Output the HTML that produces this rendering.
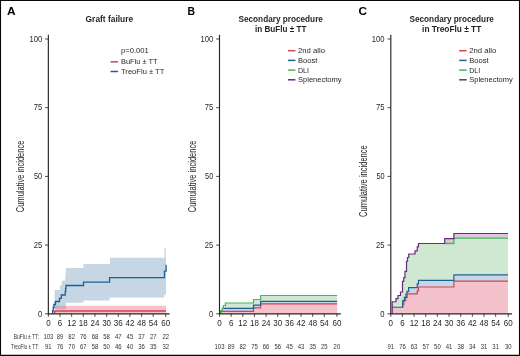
<!DOCTYPE html>
<html><head><meta charset="utf-8"><title>Figure</title>
<style>
html,body{margin:0;padding:0;background:#fff;}
body{width:520px;height:356px;overflow:hidden;}
svg{display:block;font-family:"Liberation Sans",sans-serif;}
</style></head><body>
<svg width="520" height="356" viewBox="0 0 520 356">
<rect x="0" y="0" width="520" height="356" fill="#fff"/>
<path d="M52.60,313.80 L52.60,313.80 L52.60,309.00 L53.20,309.00 L53.20,304.50 L54.00,304.50 L54.00,301.00 L54.60,301.00 L54.60,290.00 L59.90,290.00 L59.90,285.60 L61.65,285.60 L61.65,280.80 L65.20,280.80 L65.20,276.50 L65.60,276.50 L65.60,272.30 L66.00,272.30 L66.00,268.10 L83.40,268.10 L83.40,264.00 L110.00,264.00 L110.00,257.70 L166.00,257.70 L166.00,294.50 L164.20,294.50 L164.20,297.50 L109.50,297.50 L109.50,300.60 L83.40,300.60 L83.40,302.80 L66.00,302.80 L66.00,309.10 L52.40,309.10 L52.40,313.80Z" fill="#c6d6e4"/>
<rect x="164.3" y="248.2" width="1.6" height="10" fill="#c6d6e4" opacity="0.85"/>
<path d="M55,313.8 V305.8 H166.0 V313.8Z" fill="#f4c2ca"/>
<path d="M55,309.1 V305.8 H66 V309.1Z" fill="#c8aebf"/>
<path d="M54.6,313.8 V310.9 H166.0" stroke="#d93f54" stroke-width="1.5" fill="none"/>
<path d="M52.60,313.80 L52.60,313.80 L52.60,311.00 L53.20,311.00 L53.20,307.50 L53.90,307.50 L53.90,304.50 L55.50,304.50 L55.50,301.50 L59.50,301.50 L59.50,298.40 L61.30,298.40 L61.30,295.00 L65.20,295.00 L65.20,291.70 L65.60,291.70 L65.60,288.60 L66.00,288.60 L66.00,285.50 L83.50,285.50 L83.50,282.20 L109.60,282.20 L109.60,277.70 L164.50,277.70 L164.50,271.20 L166.10,271.20 L166.10,264.80 L166.10,264.80" stroke="#1e5f99" stroke-width="1.3" fill="none" stroke-linejoin="miter"/>
<g stroke="#2a2627" stroke-width="1.15" fill="none">
<path d="M48.35,34.8 V313.80 H169.65"/>
<path d="M45.05,313.80 H48.35" stroke-width="0.85"/>
<path d="M45.05,245.10 H48.35" stroke-width="0.85"/>
<path d="M45.05,176.40 H48.35" stroke-width="0.85"/>
<path d="M45.05,107.70 H48.35" stroke-width="0.85"/>
<path d="M45.05,39.00 H48.35" stroke-width="0.85"/>
<path d="M48.35,313.80 V316.80" stroke-width="0.85"/>
<path d="M60.00,313.80 V316.80" stroke-width="0.85"/>
<path d="M71.65,313.80 V316.80" stroke-width="0.85"/>
<path d="M83.30,313.80 V316.80" stroke-width="0.85"/>
<path d="M94.95,313.80 V316.80" stroke-width="0.85"/>
<path d="M106.60,313.80 V316.80" stroke-width="0.85"/>
<path d="M118.25,313.80 V316.80" stroke-width="0.85"/>
<path d="M129.90,313.80 V316.80" stroke-width="0.85"/>
<path d="M141.55,313.80 V316.80" stroke-width="0.85"/>
<path d="M153.20,313.80 V316.80" stroke-width="0.85"/>
<path d="M165.75,313.80 V316.80" stroke-width="0.85"/>
</g>
<g font-size="9" fill="#231f20" lengthAdjust="spacingAndGlyphs">
<text x="42.15" y="317" text-anchor="end" textLength="4.25" lengthAdjust="spacingAndGlyphs">0</text>
<text x="42.15" y="248" text-anchor="end" textLength="8.50" lengthAdjust="spacingAndGlyphs">25</text>
<text x="42.15" y="179" text-anchor="end" textLength="8.20" lengthAdjust="spacingAndGlyphs">50</text>
<text x="42.15" y="110" text-anchor="end" textLength="8.50" lengthAdjust="spacingAndGlyphs">75</text>
<text x="42.15" y="42" text-anchor="end" textLength="12.75" lengthAdjust="spacingAndGlyphs">100</text>
<text x="48.35" y="326.2" text-anchor="middle" textLength="4.45" lengthAdjust="spacingAndGlyphs">0</text>
<text x="60.00" y="326.2" text-anchor="middle" textLength="4.45" lengthAdjust="spacingAndGlyphs">6</text>
<text x="71.65" y="326.2" text-anchor="middle" textLength="8.90" lengthAdjust="spacingAndGlyphs">12</text>
<text x="83.30" y="326.2" text-anchor="middle" textLength="8.90" lengthAdjust="spacingAndGlyphs">18</text>
<text x="94.95" y="326.2" text-anchor="middle" textLength="8.90" lengthAdjust="spacingAndGlyphs">24</text>
<text x="106.60" y="326.2" text-anchor="middle" textLength="8.90" lengthAdjust="spacingAndGlyphs">30</text>
<text x="118.25" y="326.2" text-anchor="middle" textLength="8.90" lengthAdjust="spacingAndGlyphs">36</text>
<text x="129.90" y="326.2" text-anchor="middle" textLength="8.90" lengthAdjust="spacingAndGlyphs">42</text>
<text x="141.55" y="326.2" text-anchor="middle" textLength="8.90" lengthAdjust="spacingAndGlyphs">48</text>
<text x="153.20" y="326.2" text-anchor="middle" textLength="8.90" lengthAdjust="spacingAndGlyphs">54</text>
<text x="165.75" y="326.2" text-anchor="middle" textLength="8.90" lengthAdjust="spacingAndGlyphs">60</text>
</g>
<text transform="translate(24.35,176.40) rotate(-90)" font-size="10.1" text-anchor="middle" textLength="71.8" lengthAdjust="spacingAndGlyphs" fill="#231f20">Cumulative incidence</text>
<text x="6.9" y="15" font-size="10.4" font-weight="bold" textLength="8.6" lengthAdjust="spacingAndGlyphs" fill="#000">A</text>
<text x="109.4" y="21.7" font-size="8.6" font-weight="bold" text-anchor="middle" textLength="47.6" lengthAdjust="spacingAndGlyphs" fill="#231f20">Graft failure</text>
<text x="121.0" y="53.0" font-size="8.0" textLength="27.8" lengthAdjust="spacingAndGlyphs" fill="#231f20">p=0.001</text>
<path d="M110.60,61.80 h7.4" stroke="#d93f54" stroke-width="1.5" fill="none"/>
<text x="121.00" y="64.00" font-size="8.0" textLength="36.6" lengthAdjust="spacingAndGlyphs" fill="#231f20">BuFlu ± TT</text>
<path d="M110.60,71.50 h7.4" stroke="#1e5f99" stroke-width="1.5" fill="none"/>
<text x="121.00" y="73.70" font-size="8.0" textLength="43.4" lengthAdjust="spacingAndGlyphs" fill="#231f20">TreoFlu ± TT</text>
<g font-size="7.2" fill="#333031">
<text x="38.85" y="339.00" text-anchor="end" textLength="25" lengthAdjust="spacingAndGlyphs">BuFlu ± TT:</text>
<text x="48.35" y="339.00" text-anchor="middle" textLength="9.9" lengthAdjust="spacingAndGlyphs">103</text>
<text x="60.00" y="339.00" text-anchor="middle" textLength="6.6" lengthAdjust="spacingAndGlyphs">89</text>
<text x="71.65" y="339.00" text-anchor="middle" textLength="6.6" lengthAdjust="spacingAndGlyphs">82</text>
<text x="83.30" y="339.00" text-anchor="middle" textLength="6.6" lengthAdjust="spacingAndGlyphs">76</text>
<text x="94.95" y="339.00" text-anchor="middle" textLength="6.6" lengthAdjust="spacingAndGlyphs">68</text>
<text x="106.60" y="339.00" text-anchor="middle" textLength="6.6" lengthAdjust="spacingAndGlyphs">58</text>
<text x="118.25" y="339.00" text-anchor="middle" textLength="6.6" lengthAdjust="spacingAndGlyphs">47</text>
<text x="129.90" y="339.00" text-anchor="middle" textLength="6.6" lengthAdjust="spacingAndGlyphs">45</text>
<text x="141.55" y="339.00" text-anchor="middle" textLength="6.6" lengthAdjust="spacingAndGlyphs">37</text>
<text x="153.20" y="339.00" text-anchor="middle" textLength="6.6" lengthAdjust="spacingAndGlyphs">27</text>
<text x="165.75" y="339.00" text-anchor="middle" textLength="6.6" lengthAdjust="spacingAndGlyphs">22</text>
<text x="38.85" y="349.00" text-anchor="end" textLength="27.8" lengthAdjust="spacingAndGlyphs">TreoFlu ± TT:</text>
<text x="48.35" y="349.00" text-anchor="middle" textLength="6.6" lengthAdjust="spacingAndGlyphs">91</text>
<text x="60.00" y="349.00" text-anchor="middle" textLength="6.6" lengthAdjust="spacingAndGlyphs">76</text>
<text x="71.65" y="349.00" text-anchor="middle" textLength="6.6" lengthAdjust="spacingAndGlyphs">70</text>
<text x="83.30" y="349.00" text-anchor="middle" textLength="6.6" lengthAdjust="spacingAndGlyphs">67</text>
<text x="94.95" y="349.00" text-anchor="middle" textLength="6.6" lengthAdjust="spacingAndGlyphs">58</text>
<text x="106.60" y="349.00" text-anchor="middle" textLength="6.6" lengthAdjust="spacingAndGlyphs">50</text>
<text x="118.25" y="349.00" text-anchor="middle" textLength="6.6" lengthAdjust="spacingAndGlyphs">46</text>
<text x="129.90" y="349.00" text-anchor="middle" textLength="6.6" lengthAdjust="spacingAndGlyphs">40</text>
<text x="141.55" y="349.00" text-anchor="middle" textLength="6.6" lengthAdjust="spacingAndGlyphs">36</text>
<text x="153.20" y="349.00" text-anchor="middle" textLength="6.6" lengthAdjust="spacingAndGlyphs">35</text>
<text x="165.75" y="349.00" text-anchor="middle" textLength="6.6" lengthAdjust="spacingAndGlyphs">32</text>
</g>
<path d="M220.60,313.80 L220.60,313.80 L220.60,311.45 L253.50,311.45 L253.50,307.80 L260.60,307.80 L260.60,303.90 L337.10,303.90 L337.10,313.80 L220.40,313.80Z" fill="#f4c2ca"/>
<path d="M220.60,313.80 L220.60,313.80 L220.60,311.00 L222.40,311.00 L222.40,308.30 L253.50,308.30 L253.50,305.10 L260.60,305.10 L260.60,301.30 L337.10,301.30 L337.10,303.90 L260.60,303.90 L260.60,307.80 L253.50,307.80 L253.50,311.45 L220.60,311.45 L220.60,313.80 L220.60,313.80Z" fill="#c6d6e4"/>
<path d="M220.60,313.80 L220.60,313.80 L220.60,311.00 L222.40,311.00 L222.40,308.40 L223.40,308.40 L223.40,305.50 L225.40,305.50 L225.40,303.00 L253.50,303.00 L253.50,299.50 L260.60,299.50 L260.60,295.50 L337.10,295.50 L337.10,301.30 L260.60,301.30 L260.60,305.10 L253.50,305.10 L253.50,308.30 L222.40,308.30 L222.40,311.00 L220.60,311.00 L220.60,313.80 L220.60,313.80Z" fill="#cfe8d1"/>
<path d="M220.60,313.80 L220.60,313.80 L220.60,311.45 L253.50,311.45 L253.50,307.80 L260.60,307.80 L260.60,303.90 L337.10,303.90" stroke="#d93f54" stroke-width="1.2" fill="none"/>
<path d="M220.60,313.80 L220.60,313.80 L220.60,311.00 L222.40,311.00 L222.40,308.30 L253.50,308.30 L253.50,305.10 L260.60,305.10 L260.60,301.30 L337.10,301.30" stroke="#1e5f99" stroke-width="1.2" fill="none"/>
<path d="M220.60,313.80 L220.60,313.80 L220.60,311.00 L222.40,311.00 L222.40,308.40 L223.40,308.40 L223.40,305.50 L225.40,305.50 L225.40,303.00 L253.50,303.00 L253.50,299.50 L260.60,299.50 L260.60,295.50 L337.10,295.50" stroke="#45b852" stroke-width="1.2" fill="none"/>
<g stroke="#2a2627" stroke-width="1.15" fill="none">
<path d="M219.50,34.8 V313.80 H340.80"/>
<path d="M216.20,313.80 H219.50" stroke-width="0.85"/>
<path d="M216.20,245.10 H219.50" stroke-width="0.85"/>
<path d="M216.20,176.40 H219.50" stroke-width="0.85"/>
<path d="M216.20,107.70 H219.50" stroke-width="0.85"/>
<path d="M216.20,39.00 H219.50" stroke-width="0.85"/>
<path d="M219.50,313.80 V316.80" stroke-width="0.85"/>
<path d="M231.15,313.80 V316.80" stroke-width="0.85"/>
<path d="M242.80,313.80 V316.80" stroke-width="0.85"/>
<path d="M254.45,313.80 V316.80" stroke-width="0.85"/>
<path d="M266.10,313.80 V316.80" stroke-width="0.85"/>
<path d="M277.75,313.80 V316.80" stroke-width="0.85"/>
<path d="M289.40,313.80 V316.80" stroke-width="0.85"/>
<path d="M301.05,313.80 V316.80" stroke-width="0.85"/>
<path d="M312.70,313.80 V316.80" stroke-width="0.85"/>
<path d="M324.35,313.80 V316.80" stroke-width="0.85"/>
<path d="M336.90,313.80 V316.80" stroke-width="0.85"/>
</g>
<g font-size="9" fill="#231f20" lengthAdjust="spacingAndGlyphs">
<text x="213.30" y="317" text-anchor="end" textLength="4.25" lengthAdjust="spacingAndGlyphs">0</text>
<text x="213.30" y="248" text-anchor="end" textLength="8.50" lengthAdjust="spacingAndGlyphs">25</text>
<text x="213.30" y="179" text-anchor="end" textLength="8.20" lengthAdjust="spacingAndGlyphs">50</text>
<text x="213.30" y="110" text-anchor="end" textLength="8.50" lengthAdjust="spacingAndGlyphs">75</text>
<text x="213.30" y="42" text-anchor="end" textLength="12.75" lengthAdjust="spacingAndGlyphs">100</text>
<text x="219.50" y="326.2" text-anchor="middle" textLength="4.45" lengthAdjust="spacingAndGlyphs">0</text>
<text x="231.15" y="326.2" text-anchor="middle" textLength="4.45" lengthAdjust="spacingAndGlyphs">6</text>
<text x="242.80" y="326.2" text-anchor="middle" textLength="8.90" lengthAdjust="spacingAndGlyphs">12</text>
<text x="254.45" y="326.2" text-anchor="middle" textLength="8.90" lengthAdjust="spacingAndGlyphs">18</text>
<text x="266.10" y="326.2" text-anchor="middle" textLength="8.90" lengthAdjust="spacingAndGlyphs">24</text>
<text x="277.75" y="326.2" text-anchor="middle" textLength="8.90" lengthAdjust="spacingAndGlyphs">30</text>
<text x="289.40" y="326.2" text-anchor="middle" textLength="8.90" lengthAdjust="spacingAndGlyphs">36</text>
<text x="301.05" y="326.2" text-anchor="middle" textLength="8.90" lengthAdjust="spacingAndGlyphs">42</text>
<text x="312.70" y="326.2" text-anchor="middle" textLength="8.90" lengthAdjust="spacingAndGlyphs">48</text>
<text x="324.35" y="326.2" text-anchor="middle" textLength="8.90" lengthAdjust="spacingAndGlyphs">54</text>
<text x="336.90" y="326.2" text-anchor="middle" textLength="8.90" lengthAdjust="spacingAndGlyphs">60</text>
</g>
<text transform="translate(195.50,176.40) rotate(-90)" font-size="10.1" text-anchor="middle" textLength="71.8" lengthAdjust="spacingAndGlyphs" fill="#231f20">Cumulative incidence</text>
<text x="187.4" y="15" font-size="10.4" font-weight="bold" fill="#000">B</text>
<text x="280.7" y="21.6" font-size="8.6" font-weight="bold" text-anchor="middle" textLength="84.4" lengthAdjust="spacingAndGlyphs" fill="#231f20">Secondary procedure</text>
<text x="280.7" y="31.6" font-size="8.6" font-weight="bold" text-anchor="middle" textLength="51.4" lengthAdjust="spacingAndGlyphs" fill="#231f20">in BuFlu ± TT</text>
<path d="M288.00,50.70 h7.4" stroke="#d93f54" stroke-width="1.5" fill="none"/>
<text x="298.00" y="53.35" font-size="8.0" textLength="27" lengthAdjust="spacingAndGlyphs" fill="#231f20">2nd allo</text>
<path d="M288.00,60.40 h7.4" stroke="#1e5f99" stroke-width="1.5" fill="none"/>
<text x="298.00" y="63.05" font-size="8.0" textLength="19.5" lengthAdjust="spacingAndGlyphs" fill="#231f20">Boost</text>
<path d="M288.00,70.10 h7.4" stroke="#45b852" stroke-width="1.5" fill="none"/>
<text x="298.00" y="72.75" font-size="8.0" textLength="11" lengthAdjust="spacingAndGlyphs" fill="#231f20">DLI</text>
<path d="M288.00,79.80 h7.4" stroke="#6a2a7c" stroke-width="1.5" fill="none"/>
<text x="298.00" y="82.45" font-size="8.0" textLength="43.6" lengthAdjust="spacingAndGlyphs" fill="#231f20">Splenectomy</text>
<g font-size="7.2" fill="#333031">
<text x="219.50" y="349.00" text-anchor="middle" textLength="9.9" lengthAdjust="spacingAndGlyphs">103</text>
<text x="231.15" y="349.00" text-anchor="middle" textLength="6.6" lengthAdjust="spacingAndGlyphs">89</text>
<text x="242.80" y="349.00" text-anchor="middle" textLength="6.6" lengthAdjust="spacingAndGlyphs">82</text>
<text x="254.45" y="349.00" text-anchor="middle" textLength="6.6" lengthAdjust="spacingAndGlyphs">75</text>
<text x="266.10" y="349.00" text-anchor="middle" textLength="6.6" lengthAdjust="spacingAndGlyphs">66</text>
<text x="277.75" y="349.00" text-anchor="middle" textLength="6.6" lengthAdjust="spacingAndGlyphs">56</text>
<text x="289.40" y="349.00" text-anchor="middle" textLength="6.6" lengthAdjust="spacingAndGlyphs">45</text>
<text x="301.05" y="349.00" text-anchor="middle" textLength="6.6" lengthAdjust="spacingAndGlyphs">43</text>
<text x="312.70" y="349.00" text-anchor="middle" textLength="6.6" lengthAdjust="spacingAndGlyphs">35</text>
<text x="324.35" y="349.00" text-anchor="middle" textLength="6.6" lengthAdjust="spacingAndGlyphs">25</text>
<text x="336.90" y="349.00" text-anchor="middle" textLength="6.6" lengthAdjust="spacingAndGlyphs">20</text>
</g>
<path d="M392.20,313.80 L392.20,313.80 L392.20,307.25 L402.70,307.25 L402.70,304.10 L403.90,304.10 L403.90,300.60 L405.80,300.60 L405.80,293.90 L417.25,293.90 L417.25,290.90 L418.50,290.90 L418.50,287.00 L453.90,287.00 L453.90,281.20 L508.00,281.20 L508.00,313.80 L392.20,313.80Z" fill="#f4c2ca"/>
<path d="M392.20,313.80 L392.20,313.80 L392.20,307.25 L402.70,307.25 L402.70,300.60 L404.40,300.60 L404.40,297.40 L407.00,297.40 L407.00,291.40 L408.60,291.40 L408.60,287.60 L417.25,287.60 L417.25,283.90 L418.50,283.90 L418.50,280.30 L453.90,280.30 L453.90,274.80 L508.00,274.80 L508.00,281.20 L453.90,281.20 L453.90,287.00 L418.50,287.00 L418.50,290.90 L417.25,290.90 L417.25,293.90 L405.80,293.90 L405.80,300.60 L403.90,300.60 L403.90,304.10 L402.70,304.10 L402.70,307.25 L392.20,307.25 L392.20,313.80 L392.20,313.80Z" fill="#c6d6e4"/>
<path d="M392.20,313.80 L392.20,313.80 L392.20,301.75 L396.00,301.75 L396.00,298.60 L398.00,298.60 L398.00,295.50 L400.50,295.50 L400.50,292.00 L402.50,292.00 L402.50,281.40 L403.75,281.40 L403.75,277.60 L405.00,277.60 L405.00,271.40 L406.50,271.40 L406.50,261.25 L407.50,261.25 L407.50,257.50 L408.75,257.50 L408.75,254.00 L415.00,254.00 L415.00,250.90 L417.25,250.90 L417.25,246.90 L418.50,246.90 L418.50,243.50 L453.90,243.50 L453.90,238.20 L508.00,238.20 L508.00,274.80 L453.90,274.80 L453.90,280.30 L418.50,280.30 L418.50,283.90 L417.25,283.90 L417.25,287.60 L408.60,287.60 L408.60,291.40 L407.00,291.40 L407.00,297.40 L404.40,297.40 L404.40,300.60 L402.70,300.60 L402.70,307.25 L392.20,307.25 L392.20,313.80 L392.20,313.80Z" fill="#cfe8d1"/>
<path d="M392.20,313.80 L392.20,313.80 L392.20,301.75 L396.00,301.75 L396.00,298.60 L398.00,298.60 L398.00,295.50 L400.50,295.50 L400.50,292.00 L402.50,292.00 L402.50,281.40 L403.75,281.40 L403.75,277.60 L405.00,277.60 L405.00,271.40 L406.50,271.40 L406.50,261.25 L407.50,261.25 L407.50,257.50 L408.75,257.50 L408.75,254.00 L415.00,254.00 L415.00,250.90 L417.25,250.90 L417.25,246.90 L418.50,246.90 L418.50,243.50 L444.70,243.50 L444.70,238.60 L453.90,238.60 L453.90,233.50 L508.00,233.50 L508.00,238.20 L453.90,238.20 L453.90,243.50 L418.50,243.50 L418.50,246.90 L417.25,246.90 L417.25,250.90 L415.00,250.90 L415.00,254.00 L408.75,254.00 L408.75,257.50 L407.50,257.50 L407.50,261.25 L406.50,261.25 L406.50,271.40 L405.00,271.40 L405.00,277.60 L403.75,277.60 L403.75,281.40 L402.50,281.40 L402.50,292.00 L400.50,292.00 L400.50,295.50 L398.00,295.50 L398.00,298.60 L396.00,298.60 L396.00,301.75 L392.20,301.75 L392.20,313.80 L392.20,313.80Z" fill="#dcc6df"/>
<path d="M402.70,307.25 L402.70,304.10 L403.90,304.10 L403.90,300.60 L405.80,300.60 L405.80,293.90 L417.25,293.90 L417.25,290.90 L418.50,290.90 L418.50,287.00 L453.90,287.00 L453.90,281.20 L508.00,281.20" stroke="#d93f54" stroke-width="1.2" fill="none"/>
<path d="M392.20,307.25 L402.70,307.25 L402.70,300.60 L404.40,300.60 L404.40,297.40 L407.00,297.40 L407.00,291.40 L408.60,291.40 L408.60,287.60 L417.25,287.60 L417.25,283.90 L418.50,283.90 L418.50,280.30 L453.90,280.30 L453.90,274.80 L508.00,274.80" stroke="#1e5f99" stroke-width="1.2" fill="none"/>
<path d="M444.7,243.5 H453.9 V238.2 H508.0" stroke="#45b852" stroke-width="1.3" fill="none"/>
<path d="M392.20,313.80 L392.20,313.80 L392.20,301.75 L396.00,301.75 L396.00,298.60 L398.00,298.60 L398.00,295.50 L400.50,295.50 L400.50,292.00 L402.50,292.00 L402.50,281.40 L403.75,281.40 L403.75,277.60 L405.00,277.60 L405.00,271.40 L406.50,271.40 L406.50,261.25 L407.50,261.25 L407.50,257.50 L408.75,257.50 L408.75,254.00 L415.00,254.00 L415.00,250.90 L417.25,250.90 L417.25,246.90 L418.50,246.90 L418.50,243.50 L444.70,243.50 L444.70,238.60 L453.90,238.60 L453.90,233.50 L508.00,233.50" stroke="#6a2a7c" stroke-width="1.2" fill="none"/>
<g stroke="#2a2627" stroke-width="1.15" fill="none">
<path d="M390.80,34.8 V313.80 H512.10"/>
<path d="M387.50,313.80 H390.80" stroke-width="0.85"/>
<path d="M387.50,245.10 H390.80" stroke-width="0.85"/>
<path d="M387.50,176.40 H390.80" stroke-width="0.85"/>
<path d="M387.50,107.70 H390.80" stroke-width="0.85"/>
<path d="M387.50,39.00 H390.80" stroke-width="0.85"/>
<path d="M390.80,313.80 V316.80" stroke-width="0.85"/>
<path d="M402.45,313.80 V316.80" stroke-width="0.85"/>
<path d="M414.10,313.80 V316.80" stroke-width="0.85"/>
<path d="M425.75,313.80 V316.80" stroke-width="0.85"/>
<path d="M437.40,313.80 V316.80" stroke-width="0.85"/>
<path d="M449.05,313.80 V316.80" stroke-width="0.85"/>
<path d="M460.70,313.80 V316.80" stroke-width="0.85"/>
<path d="M472.35,313.80 V316.80" stroke-width="0.85"/>
<path d="M484.00,313.80 V316.80" stroke-width="0.85"/>
<path d="M495.65,313.80 V316.80" stroke-width="0.85"/>
<path d="M508.20,313.80 V316.80" stroke-width="0.85"/>
</g>
<g font-size="9" fill="#231f20" lengthAdjust="spacingAndGlyphs">
<text x="384.60" y="317" text-anchor="end" textLength="4.25" lengthAdjust="spacingAndGlyphs">0</text>
<text x="384.60" y="248" text-anchor="end" textLength="8.50" lengthAdjust="spacingAndGlyphs">25</text>
<text x="384.60" y="179" text-anchor="end" textLength="8.20" lengthAdjust="spacingAndGlyphs">50</text>
<text x="384.60" y="110" text-anchor="end" textLength="8.50" lengthAdjust="spacingAndGlyphs">75</text>
<text x="384.60" y="42" text-anchor="end" textLength="12.75" lengthAdjust="spacingAndGlyphs">100</text>
<text x="390.80" y="326.2" text-anchor="middle" textLength="4.45" lengthAdjust="spacingAndGlyphs">0</text>
<text x="402.45" y="326.2" text-anchor="middle" textLength="4.45" lengthAdjust="spacingAndGlyphs">6</text>
<text x="414.10" y="326.2" text-anchor="middle" textLength="8.90" lengthAdjust="spacingAndGlyphs">12</text>
<text x="425.75" y="326.2" text-anchor="middle" textLength="8.90" lengthAdjust="spacingAndGlyphs">18</text>
<text x="437.40" y="326.2" text-anchor="middle" textLength="8.90" lengthAdjust="spacingAndGlyphs">24</text>
<text x="449.05" y="326.2" text-anchor="middle" textLength="8.90" lengthAdjust="spacingAndGlyphs">30</text>
<text x="460.70" y="326.2" text-anchor="middle" textLength="8.90" lengthAdjust="spacingAndGlyphs">36</text>
<text x="472.35" y="326.2" text-anchor="middle" textLength="8.90" lengthAdjust="spacingAndGlyphs">42</text>
<text x="484.00" y="326.2" text-anchor="middle" textLength="8.90" lengthAdjust="spacingAndGlyphs">48</text>
<text x="495.65" y="326.2" text-anchor="middle" textLength="8.90" lengthAdjust="spacingAndGlyphs">54</text>
<text x="508.20" y="326.2" text-anchor="middle" textLength="8.90" lengthAdjust="spacingAndGlyphs">60</text>
</g>
<text transform="translate(366.80,181.10) rotate(-90)" font-size="10.1" text-anchor="middle" textLength="71.8" lengthAdjust="spacingAndGlyphs" fill="#231f20">Cumulative incidence</text>
<text x="358.4" y="15.2" font-size="10.8" font-weight="bold" textLength="8.5" lengthAdjust="spacingAndGlyphs" fill="#000">C</text>
<text x="451.7" y="21.6" font-size="8.6" font-weight="bold" text-anchor="middle" textLength="84.4" lengthAdjust="spacingAndGlyphs" fill="#231f20">Secondary procedure</text>
<text x="451.7" y="31.6" font-size="8.6" font-weight="bold" text-anchor="middle" textLength="59.2" lengthAdjust="spacingAndGlyphs" fill="#231f20">in TreoFlu ± TT</text>
<path d="M459.20,50.70 h7.4" stroke="#d93f54" stroke-width="1.5" fill="none"/>
<text x="469.20" y="53.35" font-size="8.0" textLength="27" lengthAdjust="spacingAndGlyphs" fill="#231f20">2nd allo</text>
<path d="M459.20,60.40 h7.4" stroke="#1e5f99" stroke-width="1.5" fill="none"/>
<text x="469.20" y="63.05" font-size="8.0" textLength="19.5" lengthAdjust="spacingAndGlyphs" fill="#231f20">Boost</text>
<path d="M459.20,70.10 h7.4" stroke="#45b852" stroke-width="1.5" fill="none"/>
<text x="469.20" y="72.75" font-size="8.0" textLength="11" lengthAdjust="spacingAndGlyphs" fill="#231f20">DLI</text>
<path d="M459.20,79.80 h7.4" stroke="#6a2a7c" stroke-width="1.5" fill="none"/>
<text x="469.20" y="82.45" font-size="8.0" textLength="43.6" lengthAdjust="spacingAndGlyphs" fill="#231f20">Splenectomy</text>
<g font-size="7.2" fill="#333031">
<text x="390.80" y="349.00" text-anchor="middle" textLength="6.6" lengthAdjust="spacingAndGlyphs">91</text>
<text x="402.45" y="349.00" text-anchor="middle" textLength="6.6" lengthAdjust="spacingAndGlyphs">76</text>
<text x="414.10" y="349.00" text-anchor="middle" textLength="6.6" lengthAdjust="spacingAndGlyphs">63</text>
<text x="425.75" y="349.00" text-anchor="middle" textLength="6.6" lengthAdjust="spacingAndGlyphs">57</text>
<text x="437.40" y="349.00" text-anchor="middle" textLength="6.6" lengthAdjust="spacingAndGlyphs">50</text>
<text x="449.05" y="349.00" text-anchor="middle" textLength="6.6" lengthAdjust="spacingAndGlyphs">41</text>
<text x="460.70" y="349.00" text-anchor="middle" textLength="6.6" lengthAdjust="spacingAndGlyphs">38</text>
<text x="472.35" y="349.00" text-anchor="middle" textLength="6.6" lengthAdjust="spacingAndGlyphs">34</text>
<text x="484.00" y="349.00" text-anchor="middle" textLength="6.6" lengthAdjust="spacingAndGlyphs">31</text>
<text x="495.65" y="349.00" text-anchor="middle" textLength="6.6" lengthAdjust="spacingAndGlyphs">31</text>
<text x="508.20" y="349.00" text-anchor="middle" textLength="6.6" lengthAdjust="spacingAndGlyphs">30</text>
</g>
<path d="M0,0 H520 V356 H0 Z M1.05,0.95 V354.8 H518.95 V0.95 Z" fill="#0a0606" fill-rule="evenodd"/>
</svg></body></html>
